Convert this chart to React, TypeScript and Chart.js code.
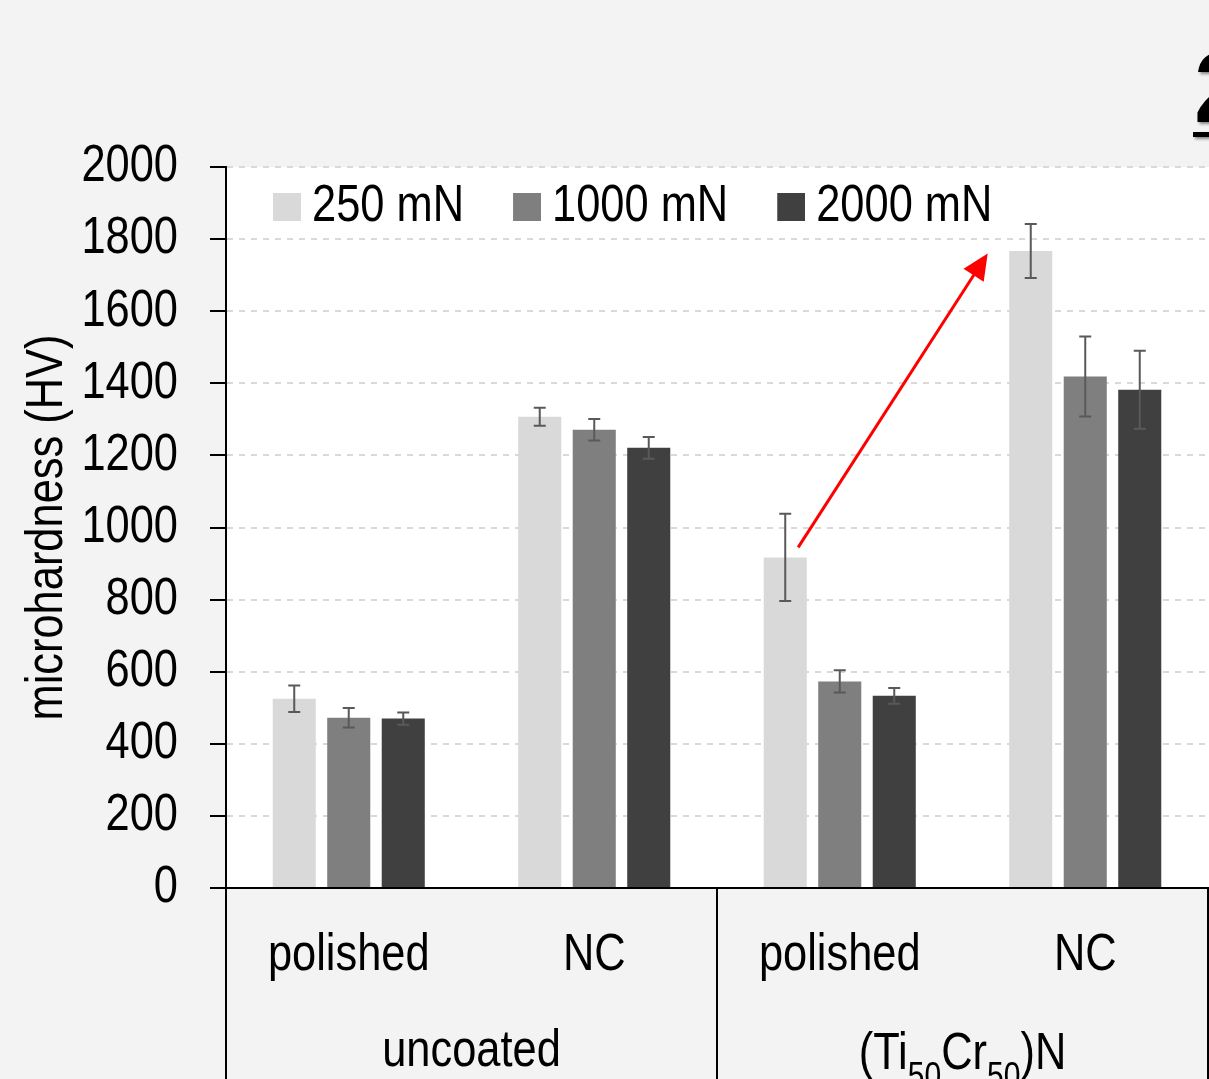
import React, { useEffect, useRef } from "react";
import { Chart, registerables } from "chart.js";

Chart.register(...registerables);

// ---------- data ----------
const categories = ["polished", "NC", "polished", "NC"];
const groupNames = [
  [{ t: "uncoated", sub: false }],
  [
    { t: "(Ti", sub: false },
    { t: "50", sub: true },
    { t: "Cr", sub: false },
    { t: "50", sub: true },
    { t: ")N", sub: false },
  ],
];
const groupSpans = [
  [0, 1],
  [2, 3],
];
const seriesNames = ["250 mN", "1000 mN", "2000 mN"];
const hv250 = [525, 1307, 917, 1767];
const sd250 = [37, 25, 121, 75];
const hv1000 = [472, 1271, 573, 1419];
const sd1000 = [27, 30, 31, 111];
const hv2000 = [470, 1221, 533, 1382];
const sd2000 = [17, 30, 22, 108];
const yMin = 0;
const yMax = 2000;
const yStep = 200;
const yTitle = "microhardness (HV)";
const arrowFrom = { category: 2, value: 945 };
const arrowTo = { category: 3, value: 1760 };
const panelLabel = "2";

// ---------- styles ----------
const FONT = "'Liberation Sans', Arial, sans-serif";
const NARROW = 0.835; // horizontal squeeze to imitate a narrow sans
const COLORS = ["#d9d9d9", "#7f7f7f", "#404040"];
const PAGE_BG = "#f3f3f3";
const LEGEND_BOX_W = 49;

let squeezeText = true;

function installNarrowText(ctx: any) {
  const origFill = ctx.fillText.bind(ctx);
  const origMeasure = ctx.measureText.bind(ctx);
  ctx.fillText = (text: string, x: number, y: number, maxWidth?: number) => {
    if (!squeezeText) {
      if (maxWidth === undefined) origFill(text, x, y);
      else origFill(text, x, y, maxWidth);
      return;
    }
    ctx.save();
    ctx.translate(x, y);
    ctx.scale(NARROW, 1);
    if (maxWidth === undefined) origFill(text, 0, 0);
    else origFill(text, 0, 0, maxWidth / NARROW);
    ctx.restore();
  };
  ctx.measureText = (text: string) => {
    const m = origMeasure(text);
    if (!squeezeText) return m;
    return {
      width: m.width * NARROW,
      actualBoundingBoxLeft: m.actualBoundingBoxLeft * NARROW,
      actualBoundingBoxRight: m.actualBoundingBoxRight * NARROW,
      actualBoundingBoxAscent: m.actualBoundingBoxAscent,
      actualBoundingBoxDescent: m.actualBoundingBoxDescent,
      fontBoundingBoxAscent: m.fontBoundingBoxAscent,
      fontBoundingBoxDescent: m.fontBoundingBoxDescent,
    };
  };
}

function makeSwatch(color: string) {
  const c = document.createElement("canvas");
  c.width = LEGEND_BOX_W + 30;
  c.height = 28;
  const g = c.getContext("2d")!;
  g.fillStyle = color;
  g.fillRect(c.width - 28, 0, 28, 28);
  return c;
}

const bgPlugin = {
  id: "bgPlugin",
  beforeDraw(chart: any) {
    const { ctx, chartArea } = chart;
    ctx.save();
    ctx.fillStyle = PAGE_BG;
    ctx.fillRect(0, 0, chart.width, chart.height);
    ctx.fillStyle = "#ffffff";
    ctx.fillRect(chartArea.left, chartArea.top, chart.width - chartArea.left, chartArea.bottom - chartArea.top);
    ctx.restore();
  },
};

const legendMove = {
  id: "legendMove",
  afterLayout(chart: any) {
    const lg = chart.legend;
    if (!lg) return;
    const h = lg.height;
    lg.left = chart.chartArea.left - 2;
    lg.right = lg.left + lg.width;
    lg.top = chart.chartArea.top + 1;
    lg.bottom = lg.top + h;
  },
};

const errorBars = {
  id: "errorBars",
  afterDatasetsDraw(chart: any) {
    const { ctx } = chart;
    const y = chart.scales.y;
    ctx.save();
    ctx.strokeStyle = "#595959";
    ctx.lineWidth = 2;
    chart.data.datasets.forEach((ds: any, di: number) => {
      const meta = chart.getDatasetMeta(di);
      meta.data.forEach((bar: any, i: number) => {
        const v = ds.data[i];
        const e = ds.errors[i];
        const yt = y.getPixelForValue(v + e);
        const yb = y.getPixelForValue(v - e);
        const x = bar.x;
        ctx.beginPath();
        ctx.moveTo(x, yt);
        ctx.lineTo(x, yb);
        ctx.moveTo(x - 6, yt);
        ctx.lineTo(x + 6, yt);
        ctx.moveTo(x - 6, yb);
        ctx.lineTo(x + 6, yb);
        ctx.stroke();
      });
    });
    ctx.restore();
  },
};

const annotations = {
  id: "annotations",
  afterDraw(chart: any) {
    const { ctx, chartArea } = chart;
    const xs = chart.scales.x;
    const ys = chart.scales.y;
    const catW = xs.width / categories.length;

    // group separators and labels
    ctx.save();
    ctx.strokeStyle = "#000";
    ctx.lineWidth = 2;
    const edges = new Set<number>();
    groupSpans.forEach(([a, b]) => {
      edges.add(xs.getPixelForValue(a) - catW / 2);
      edges.add(xs.getPixelForValue(b) + catW / 2);
    });
    edges.forEach((ex) => {
      ctx.beginPath();
      ctx.moveTo(ex, chartArea.bottom);
      ctx.lineTo(ex, chart.height);
      ctx.stroke();
    });
    ctx.fillStyle = "#000";
    ctx.textBaseline = "alphabetic";
    ctx.textAlign = "left";
    groupSpans.forEach(([a, b], gi) => {
      const cx = (xs.getPixelForValue(a) + xs.getPixelForValue(b)) / 2;
      const parts = groupNames[gi];
      const fontFor = (sub: boolean) => `${sub ? 36 : 52}px ${FONT}`;
      let total = 0;
      parts.forEach((p) => {
        ctx.font = fontFor(p.sub);
        total += ctx.measureText(p.t).width;
      });
      let x = cx - total / 2;
      const base = chartArea.bottom + (parts.length > 1 ? 181 : 178);
      parts.forEach((p) => {
        ctx.font = fontFor(p.sub);
        ctx.fillText(p.t, x, base + (p.sub ? 19 : 0));
        x += ctx.measureText(p.t).width;
      });
    });
    ctx.restore();

    // red arrow
    const m0 = chart.getDatasetMeta(0);
    const b1 = m0.data[arrowFrom.category];
    const b2 = m0.data[arrowTo.category];
    const x1 = b1.x + b1.width * 0.3;
    const y1 = ys.getPixelForValue(arrowFrom.value);
    const x2 = b2.x - b2.width * 1.0;
    const y2 = ys.getPixelForValue(arrowTo.value);
    const ang = Math.atan2(y2 - y1, x2 - x1);
    const headL = 26;
    const headW = 12;
    ctx.save();
    ctx.strokeStyle = "#ff0000";
    ctx.fillStyle = "#ff0000";
    ctx.lineWidth = 3;
    ctx.beginPath();
    ctx.moveTo(x1, y1);
    ctx.lineTo(x2 - Math.cos(ang) * (headL - 4), y2 - Math.sin(ang) * (headL - 4));
    ctx.stroke();
    const bx = x2 - Math.cos(ang) * headL;
    const by = y2 - Math.sin(ang) * headL;
    ctx.beginPath();
    ctx.moveTo(x2, y2);
    ctx.lineTo(bx + Math.sin(ang) * headW, by - Math.cos(ang) * headW);
    ctx.lineTo(bx - Math.sin(ang) * headW, by + Math.cos(ang) * headW);
    ctx.closePath();
    ctx.fill();
    ctx.restore();

    // partially visible panel label at top right
    squeezeText = false;
    ctx.save();
    ctx.shadowColor = "rgba(0,0,0,0.45)";
    ctx.shadowBlur = 3;
    ctx.shadowOffsetX = 2;
    ctx.shadowOffsetY = 2;
    ctx.fillStyle = "#000";
    ctx.font = `bold 100px 'Liberation Sans', Arial, sans-serif`;
    ctx.textBaseline = "alphabetic";
    ctx.textAlign = "left";
    ctx.fillText(panelLabel, 1194, 122);
    ctx.fillRect(1193, 132, 40, 5);
    ctx.restore();
    squeezeText = true;
  },
};

export default function App() {
  const ref = useRef<HTMLCanvasElement | null>(null);

  useEffect(() => {
    document.body.style.margin = "0";
    document.body.style.background = PAGE_BG;
    const canvas = ref.current!;
    installNarrowText(canvas.getContext("2d"));
    const swatches = COLORS.map(makeSwatch);
    const errs = [sd250, sd1000, sd2000];
    const vals = [hv250, hv1000, hv2000];
    const chart = new Chart(canvas, {
      type: "bar",
      data: {
        labels: categories,
        datasets: seriesNames.map((name, i) => ({
          label: name,
          data: vals[i],
          errors: errs[i],
          backgroundColor: COLORS[i],
          borderWidth: 0,
        })) as any,
      },
      options: {
        responsive: false,
        animation: false,
        devicePixelRatio: 1,
        events: [],
        layout: { padding: { top: 92, left: 0, right: 1, bottom: 0 } },
        datasets: { bar: { categoryPercentage: 0.666, barPercentage: 0.79 } },
        scales: {
          x: {
            offset: true,
            grid: { display: false, drawTicks: false },
            border: { display: true, color: "#000", width: 2 },
            ticks: {
              color: "#000",
              font: { family: FONT, size: 52 },
              padding: 36,
              maxRotation: 0,
              autoSkip: false,
            },
            afterFit: (s: any) => {
              s.height = 191;
            },
          },
          y: {
            min: yMin,
            max: yMax,
            ticks: {
              stepSize: yStep,
              color: "#000",
              font: { family: FONT, size: 52 },
              padding: 32,
              callback: (v: any) => String(v),
            },
            grid: {
              color: "#d9d9d9",
              lineWidth: 2,
              drawTicks: true,
              tickLength: 16,
              tickColor: "#000",
              tickWidth: 2,
              tickBorderDash: [],
            },
            border: { display: true, color: "#000", width: 2, dash: [6, 6] },
            title: {
              display: true,
              text: yTitle,
              color: "#000",
              font: { family: FONT, size: 52, lineHeight: 1 },
              padding: { top: 22, bottom: 0 },
            },
            afterFit: (s: any) => {
              s.width = 226;
            },
          },
        },
        plugins: {
          tooltip: { enabled: false },
          legend: {
            display: true,
            position: "top",
            align: "start",
            labels: {
              usePointStyle: true,
              pointStyleWidth: LEGEND_BOX_W,
              padding: 13,
              color: "#000",
              font: { family: FONT, size: 52 },
              generateLabels: (c: any) => {
                const items = (Chart.defaults.plugins.legend.labels as any).generateLabels(c);
                return items.map((it: any, i: number) => ({ ...it, pointStyle: swatches[i] }));
              },
            },
          },
        },
      } as any,
      plugins: [bgPlugin, legendMove, errorBars, annotations],
    });
    return () => chart.destroy();
  }, []);

  return (
    <div style={{ position: "absolute", left: 0, top: 0, width: 1209, height: 1079, background: PAGE_BG }}>
      <canvas ref={ref} width={1209} height={1079} style={{ width: 1209, height: 1079, display: "block" }} />
    </div>
  );
}
